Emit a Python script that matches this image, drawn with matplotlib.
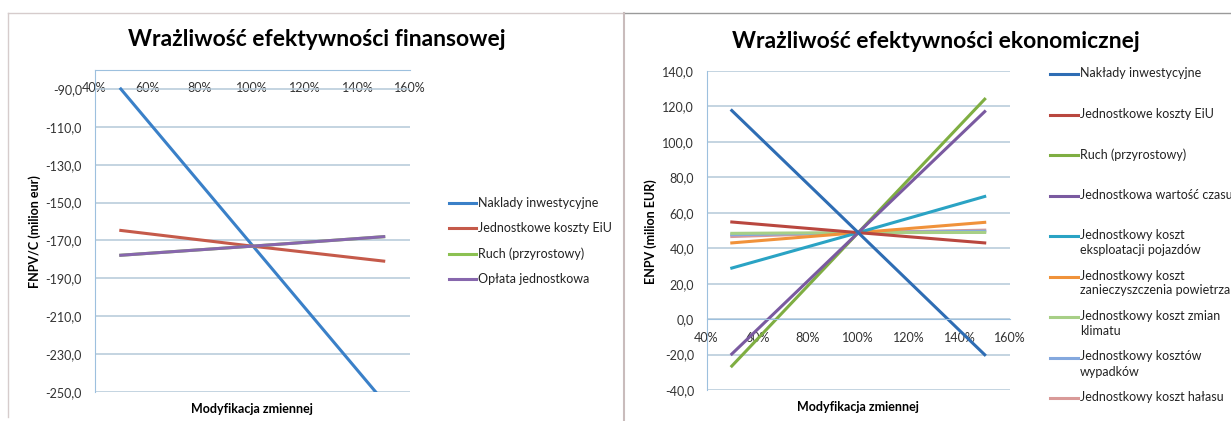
import matplotlib.pyplot as plt
from matplotlib.lines import Line2D
from matplotlib.ticker import FuncFormatter

plt.rcParams['font.family'] = ['Lato', 'DejaVu Sans']

# data: modification of variable (%) and NPV values (million EUR)
mods = [50, 100, 150]
x_ticks = [40, 60, 80, 100, 120, 140, 160]

fin_names = ["Naklady inwestycyjne", "Jednostkowe koszty EiU",
             "Ruch (przyrostowy)", "Opłata jednostkowa"]
fin_naklady = [-90.0, -172.5, -255.0]
fin_eiu = [-164.7, -173.0, -180.9]
fin_ruch = [-177.8, -173.0, -168.0]
fin_oplata = [-177.8, -173.0, -168.0]
fin_yticks = [-250, -230, -210, -190, -170, -150, -130, -110, -90]

eco_names = ["Nakłady inwestycyjne", "Jednostkowe koszty EiU",
             "Ruch (przyrostowy)", "Jednostkowa wartość czasu",
             "Jednostkowy koszt\neksploatacji pojazdów",
             "Jednostkowy koszt\nzanieczyszczenia powietrza",
             "Jednostkowy koszt zmian\nklimatu",
             "Jednostkowy kosztów\nwypadków",
             "Jednostkowy koszt hałasu"]
eco_naklady = [117.7, 48.8, -20.1]
eco_eiu = [54.8, 48.8, 43.0]
eco_ruch = [-26.5, 48.8, 124.1]
eco_czas = [-19.7, 48.8, 117.1]
eco_eksploatacja = [28.8, 48.8, 69.2]
eco_powietrze = [43.0, 48.8, 54.6]
eco_klimat = [48.4, 48.8, 48.9]
eco_wypadki = [47.6, 48.8, 49.6]
eco_halas = [46.6, 48.8, 50.2]
eco_yticks = [-40, -20, 0, 20, 40, 60, 80, 100, 120, 140]

fin_colors = ['#3a80c8', '#c55a4a', '#8cc152', '#8767ad']
eco_colors = ['#2e6db4', '#b9473f', '#7fae42', '#7a5aa0', '#2aa3c4',
              '#f0923a', '#a7cf86', '#84a8de', '#d99a98']

grid_col = '#b4c9d9'
axis_col = '#9dc0de'


def comma(v, pos):
    return f"{v:.1f}".replace('.', ',')


def style_axes(ax, yticks):
    ax.set_xlim(40, 160)
    ax.set_xticks(x_ticks)
    ax.set_xticklabels([f"{t}%" for t in x_ticks])
    ax.set_yticks(yticks)
    ax.yaxis.set_major_formatter(FuncFormatter(comma))
    ax.yaxis.grid(True, color=grid_col, lw=1.1)
    ax.set_axisbelow(True)
    ax.spines['right'].set_visible(False)
    ax.spines['top'].set_visible(False)
    ax.spines['left'].set_color(axis_col)
    ax.spines['bottom'].set_color(axis_col)
    ax.tick_params(length=0, labelsize=9, colors='#333333')
    ax.tick_params(axis='x', pad=9)
    ax.tick_params(axis='y', pad=9)


fig = plt.figure(figsize=(12.31, 4.21), dpi=100)

# panel borders
fig.add_artist(Line2D([8 / 1231, 624 / 1231], [1 - 13 / 421] * 2, color='#d6cccc', lw=1))
fig.add_artist(Line2D([8 / 1231] * 2, [1 - 13 / 421, 1 - 417 / 421], color='#d6cccc', lw=1))
fig.add_artist(Line2D([624 / 1231, 1], [1 - 13 / 421] * 2, color='#9a9a9a', lw=1))
fig.add_artist(Line2D([624 / 1231] * 2, [1 - 13 / 421, 0], color='#c9bcbc', lw=1.5))

# ---- left: financial ----
ax1 = fig.add_axes([94.5 / 1231, 1 - 392 / 421, (410 - 94.5) / 1231, (392 - 70) / 421])
for vals, c in zip([fin_naklady, fin_eiu, fin_ruch, fin_oplata], fin_colors):
    ax1.plot(mods, vals, color=c, lw=2.2)
ax1.set_ylim(-250, -80)
style_axes(ax1, fin_yticks)
ax1.spines['bottom'].set_position(('axes', 1.0))
ax1.text(0.5, -0.035, "Modyfikacja zmiennej", transform=ax1.transAxes,
         ha='center', va='top', fontsize=9, fontweight='bold')
fig.text(35 / 1231, 1 - 232 / 421, "FNPV/C (milion eur)", rotation=90,
         ha='center', va='center', fontsize=9, fontweight='bold')
fig.text(317 / 1231, 1 - 39 / 421, "Wrażliwość efektywności finansowej",
         ha='center', va='center', fontsize=16.5, fontweight='bold')

for i, (name, c) in enumerate(zip(fin_names, fin_colors)):
    y = 1 - (203 + i * 25.3) / 421
    fig.add_artist(Line2D([449 / 1231, 476 / 1231], [y, y], color=c, lw=2.2))
    fig.text(478 / 1231, y, name, ha='left', va='center', fontsize=9, color='#222222')

# ---- right: economic ----
ax2 = fig.add_axes([706.5 / 1231, 1 - 390 / 421, (1010 - 706.5) / 1231, (390 - 71) / 421])
eco_series = [eco_naklady, eco_eiu, eco_ruch, eco_czas, eco_eksploatacja,
              eco_powietrze, eco_klimat, eco_wypadki, eco_halas]
order = [8, 7, 6, 5, 4, 1, 2, 3, 0]
for i in order:
    ax2.plot(mods, eco_series[i], color=eco_colors[i], lw=2.2)
ax2.set_ylim(-40, 140)
style_axes(ax2, eco_yticks)
ax2.spines['bottom'].set_position(('data', 0))
ax2.text(0.5, -0.035, "Modyfikacja zmiennej", transform=ax2.transAxes,
         ha='center', va='top', fontsize=9, fontweight='bold')
fig.text(651 / 1231, 1 - 232 / 421, "ENPV (milion EUR)", rotation=90,
         ha='center', va='center', fontsize=9, fontweight='bold')
fig.text(936 / 1231, 1 - 41 / 421, "Wrażliwość efektywności ekonomicznej",
         ha='center', va='center', fontsize=16.5, fontweight='bold')

for i, (name, c) in enumerate(zip(eco_names, eco_colors)):
    y = 1 - (74 + i * 40.5) / 421
    fig.add_artist(Line2D([1050 / 1231, 1078 / 1231], [y, y], color=c, lw=2.2))
    fig.text(1080 / 1231, y + 7 / 421, name, ha='left', va='top', fontsize=9,
             color='#222222', linespacing=1.3)

fig.savefig('out.png', dpi=100)
